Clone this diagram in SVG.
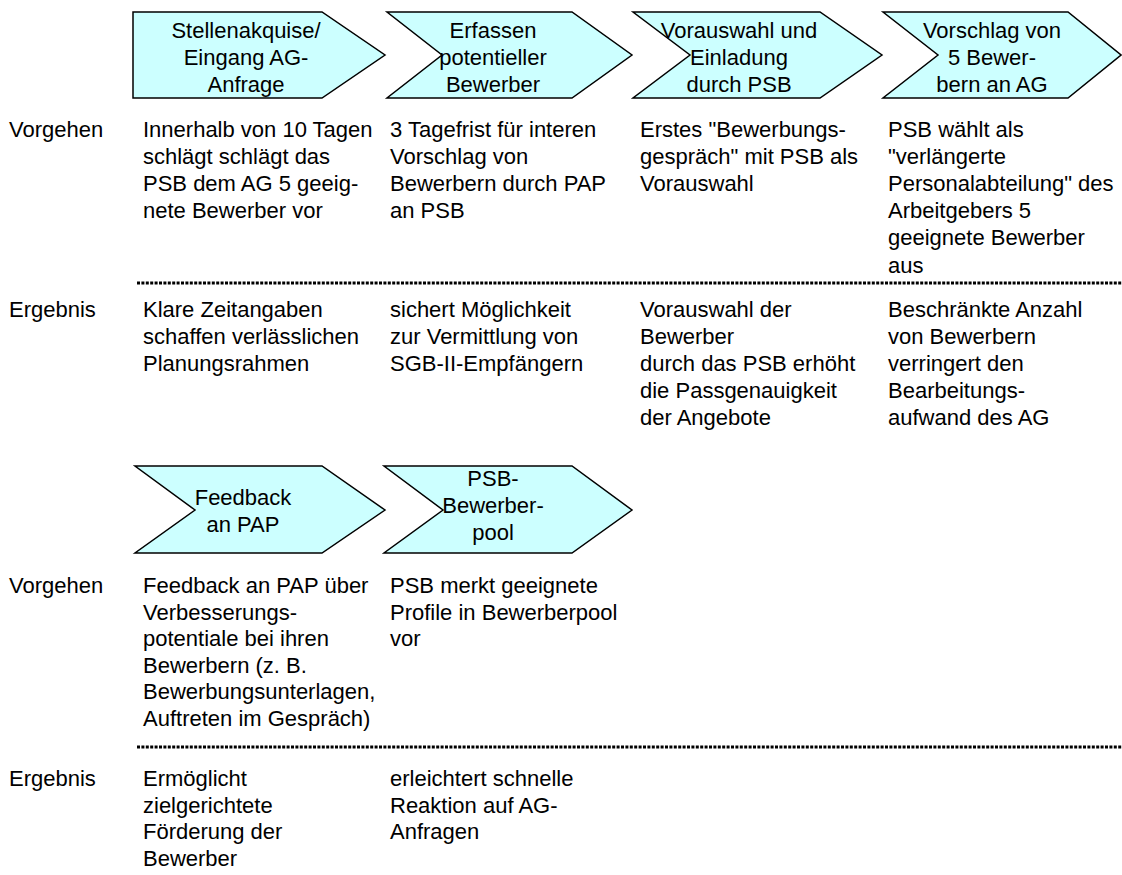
<svg xmlns="http://www.w3.org/2000/svg" width="1122" height="875" viewBox="0 0 1122 875">
  <style>
    text { font-family: "Liberation Sans", Arial, sans-serif; font-size: 22px; fill: #000; }
    .step path { fill: #CCFFFF; stroke: #000; stroke-width: 1.5; stroke-linejoin: miter; }
    .step text { text-anchor: middle; }
    .sep { stroke: #000; stroke-width: 3; stroke-dasharray: 3 1.4; fill: none; }
  </style>
  <rect width="1122" height="875" fill="#fff"/>

  <!-- process steps, first row -->
  <g id="step-stellenakquise" class="step">
    <path d="M133,12 L322,12 L385,55 L322,98 L133,98 Z"/>
    <text x="246" y="38">Stellenakquise/</text>
    <text x="246" y="65">Eingang AG-</text>
    <text x="246" y="92">Anfrage</text>
  </g>
  <g id="step-erfassen" class="step">
    <path d="M387,12 L572,12 L632,55 L572,98 L387,98 L442,55 Z"/>
    <text x="493" y="38">Erfassen</text>
    <text x="493" y="65">potentieller</text>
    <text x="493" y="92">Bewerber</text>
  </g>
  <g id="step-vorauswahl" class="step">
    <path d="M633,12 L820,12 L882,55 L820,98 L633,98 L690,55 Z"/>
    <text x="739" y="38">Vorauswahl und</text>
    <text x="739" y="65">Einladung</text>
    <text x="739" y="92">durch PSB</text>
  </g>
  <g id="step-vorschlag" class="step">
    <path d="M883,12 L1068,12 L1121,55 L1068,98 L883,98 L938,55 Z"/>
    <text x="992" y="38">Vorschlag von</text>
    <text x="992" y="65">5 Bewer-</text>
    <text x="992" y="92">bern an AG</text>
  </g>

  <!-- row labels and descriptions, first block -->
  <g id="block1-vorgehen">
    <text x="9" y="137">Vorgehen</text>
    <text x="143" y="137">Innerhalb von 10 Tagen</text>
    <text x="143" y="164">schlägt schlägt das</text>
    <text x="143" y="191">PSB dem AG 5 geeig-</text>
    <text x="143" y="218">nete Bewerber vor</text>

    <text x="390" y="137">3 Tagefrist für interen</text>
    <text x="390" y="164">Vorschlag von</text>
    <text x="390" y="191">Bewerbern durch PAP</text>
    <text x="390" y="218">an PSB</text>

    <text x="640" y="137">Erstes "Bewerbungs-</text>
    <text x="640" y="164">gespräch" mit PSB als</text>
    <text x="640" y="191">Vorauswahl</text>

    <text x="888" y="137">PSB wählt als</text>
    <text x="888" y="164">"verlängerte</text>
    <text x="888" y="191">Personalabteilung" des</text>
    <text x="888" y="218">Arbeitgebers 5</text>
    <text x="888" y="245">geeignete Bewerber</text>
    <text x="888" y="273">aus</text>
  </g>

  <g id="block1-ergebnis">
    <text x="9" y="317">Ergebnis</text>
    <text x="143" y="317">Klare Zeitangaben</text>
    <text x="143" y="344">schaffen verlässlichen</text>
    <text x="143" y="371">Planungsrahmen</text>

    <text x="390" y="317">sichert Möglichkeit</text>
    <text x="390" y="344">zur Vermittlung von</text>
    <text x="390" y="371">SGB-II-Empfängern</text>

    <text x="640" y="317">Vorauswahl der</text>
    <text x="640" y="344">Bewerber</text>
    <text x="640" y="371">durch das PSB erhöht</text>
    <text x="640" y="398">die Passgenauigkeit</text>
    <text x="640" y="425">der Angebote</text>

    <text x="888" y="317">Beschränkte Anzahl</text>
    <text x="888" y="344">von Bewerbern</text>
    <text x="888" y="371">verringert den</text>
    <text x="888" y="398">Bearbeitungs-</text>
    <text x="888" y="425">aufwand des AG</text>
  </g>

  <!-- process steps, second row -->
  <g id="step-feedback" class="step">
    <path d="M135,466 L322,466 L385,510 L322,553 L135,553 L195,510 Z"/>
    <text x="243" y="505">Feedback</text>
    <text x="243" y="532">an PAP</text>
  </g>
  <g id="step-bewerberpool" class="step">
    <path d="M384,466 L572,466 L632,510 L572,553 L384,553 L443,510 Z"/>
    <text x="493" y="486">PSB-</text>
    <text x="493" y="513">Bewerber-</text>
    <text x="493" y="540">pool</text>
  </g>

  <g id="block2-vorgehen">
    <text x="9" y="593">Vorgehen</text>
    <text x="143" y="593">Feedback an PAP über</text>
    <text x="143" y="619.5">Verbesserungs-</text>
    <text x="143" y="646">potentiale bei ihren</text>
    <text x="143" y="672.5">Bewerbern (z. B.</text>
    <text x="143" y="699">Bewerbungsunterlagen,</text>
    <text x="143" y="725.5">Auftreten im Gespräch)</text>

    <text x="390" y="593">PSB merkt geeignete</text>
    <text x="390" y="619.5">Profile in Bewerberpool</text>
    <text x="390" y="646">vor</text>
  </g>

  <g id="block2-ergebnis">
    <text x="9" y="786">Ergebnis</text>
    <text x="143" y="786">Ermöglicht</text>
    <text x="143" y="812.5">zielgerichtete</text>
    <text x="143" y="839">Förderung der</text>
    <text x="143" y="865.5">Bewerber</text>

    <text x="390" y="786">erleichtert schnelle</text>
    <text x="390" y="812.5">Reaktion auf AG-</text>
    <text x="390" y="839">Anfragen</text>
  </g>

  <!-- dotted separators between Vorgehen and Ergebnis -->
  <g id="connectors">
    <line class="sep" x1="137" y1="283" x2="1122" y2="283"/>
    <line class="sep" x1="137" y1="747" x2="1122" y2="747"/>
  </g>
</svg>
